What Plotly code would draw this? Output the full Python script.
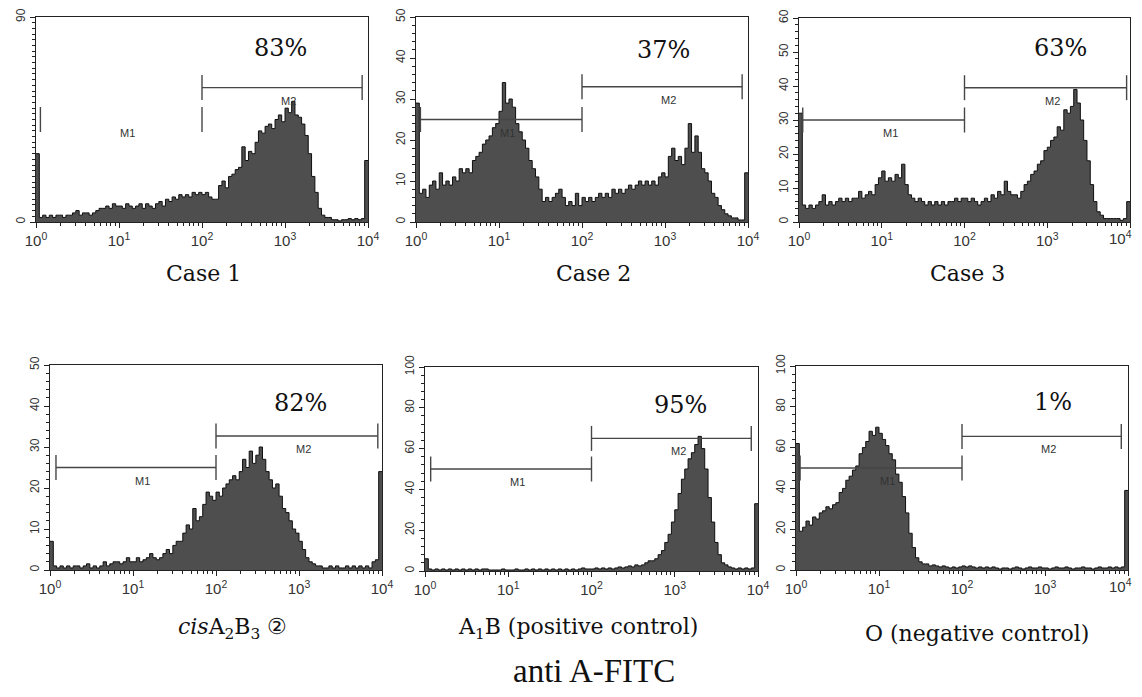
import numpy as np
import plotly.graph_objects as go

# ---------------- data ----------------
titles = ["Case 1", "Case 2", "Case 3",
          "<i>cis</i>A<sub>2</sub>B<sub>3</sub> \u2461",
          "A<sub>1</sub>B (positive control)",
          "O (negative control)"]
percents = ["83%", "37%", "63%", "82%", "95%", "1%"]
y_max = [90, 50, 60, 50, 100, 100]
y_dtick = [90, 10, 10, 10, 20, 20]
y_minor = [2.5, 2, 2, 2, 4, 4]
x_tickvals = [1, 10, 100, 1000, 10000]
x_ticktext = ["10<sup>0</sup>", "10<sup>1</sup>", "10<sup>2</sup>", "10<sup>3</sup>", "10<sup>4</sup>"]

# 100 channels per histogram, each 0.04 decade wide, from 10^0 to 10^4
counts_case1 = [30, 2, 3, 2, 3, 2, 3, 3, 2, 3,
                3, 4, 5, 3, 4, 4, 3, 4, 5, 6,
                6, 7, 6, 8, 7, 7, 6, 8, 7, 6,
                7, 8, 6, 8, 7, 6, 8, 9, 7, 10,
                9, 11, 10, 12, 11, 12, 11, 13, 12, 13,
                12, 13, 11, 10, 10, 16, 18, 15, 20, 21,
                23, 24, 33, 27, 31, 30, 35, 40, 39, 42,
                43, 41, 45, 47, 44, 50, 48, 53, 47, 46,
                43, 38, 30, 20, 13, 6, 3, 2, 2, 1,
                1, 0.5, 1, 1, 1.5, 1, 1.5, 1, 1.5, 27]
counts_case2 = [29, 7, 8, 6, 9, 10, 8, 12, 9, 10,
                9, 11, 10, 13, 12, 13, 12, 15, 16, 17,
                19, 20, 21, 23, 24, 27, 34, 29, 30, 28,
                24, 22, 20, 18, 15, 13, 11, 8, 5, 6,
                5, 6, 7, 8, 6, 4, 5, 4, 7, 4,
                6, 5, 6, 5, 6, 7, 6, 7, 6, 8,
                7, 8, 7, 8, 9, 8, 9, 10, 9, 10,
                9, 10, 9, 11, 12, 11, 16, 18, 15, 16,
                14, 18, 24, 17, 21, 17, 13, 12, 10, 7,
                6, 4, 3, 2, 1.5, 1, 1, 0.5, 0.5, 12]
counts_case3 = [32, 5, 4, 5, 4, 5, 6, 8, 5, 6,
                5, 6, 7, 6, 7, 6, 7, 7, 9, 7,
                8, 9, 8, 11, 13, 15, 12, 13, 12, 14,
                13, 17, 11, 8, 7, 6, 7, 6, 5, 6,
                5, 6, 5, 6, 5, 6, 6, 7, 6, 7,
                7, 6, 7, 6, 5, 6, 7, 6, 8, 7,
                9, 8, 12, 9, 8, 8, 7, 9, 11, 12,
                14, 15, 17, 18, 21, 22, 24, 25, 28, 27,
                33, 32, 34, 39, 35, 30, 24, 18, 11, 6,
                3, 2, 1, 1, 1, 1, 1, 0.5, 1, 6]
counts_cis = [7, 1, 0.5, 1, 0.5, 1, 0.5, 1, 1, 0.5,
              1, 1.5, 0.5, 1, 0.5, 1, 2, 1, 1.5, 2,
              2, 1.5, 2, 3, 2, 2, 3, 2, 2.5, 3,
              4, 3, 2.5, 3, 4, 5, 4, 6, 7, 7,
              9, 11, 10, 15, 12, 13, 16, 19, 18, 17,
              19, 18, 20, 21, 22, 23, 22, 24, 27, 25,
              29, 26, 28, 30, 27, 24, 22, 20, 21, 18,
              15, 14, 12, 10, 9, 7, 5, 3, 2, 1.5,
              1, 1, 0.5, 0.5, 1, 0.5, 1, 0.5, 0.5, 1,
              0.5, 1, 0.5, 1, 0.5, 1, 0.5, 2, 2.5, 24]
counts_pos = [6, 1, 0.5, 1, 0.5, 1, 0.5, 1, 0.5, 1,
              0.5, 1, 0.5, 1, 0.5, 1, 0.5, 1, 1, 0.5,
              0.5, 0.5, 0.5, 1, 0.5, 0.5, 0.5, 1, 0.5, 0.5,
              1, 0.5, 1, 0.5, 1, 0.5, 1, 0.5, 1, 0.5,
              1, 0.5, 1, 0.5, 1, 0.5, 1, 1.5, 1, 1,
              1, 1.5, 1, 1.5, 1, 1.5, 1, 1.5, 2, 1.5,
              2, 2.5, 2, 3, 2.5, 3, 4, 5, 5, 6,
              8, 10, 14, 18, 24, 30, 38, 45, 50, 55,
              58, 62, 66, 60, 50, 36, 24, 14, 8, 4,
              3, 2, 1.5, 1, 1.5, 1, 1.5, 1, 1.5, 33]
counts_neg = [62, 19, 21, 24, 22, 26, 25, 28, 29, 31,
              30, 32, 33, 38, 40, 44, 46, 49, 51, 57,
              60, 63, 68, 66, 70, 67, 64, 61, 57, 54,
              47, 43, 36, 28, 18, 11, 6, 4, 3, 3,
              2, 2.5, 2, 1.5, 2, 1.5, 1, 1.5, 1, 1.5,
              2, 1.5, 2, 1.5, 1, 1.5, 1, 1.5, 1, 1.5,
              1, 0.5, 1, 1, 0.5, 1, 1.5, 1, 0.5, 1,
              1.5, 1, 1, 1.5, 1, 1, 0.5, 1, 1.5, 1,
              1, 1.5, 1, 0.5, 1, 1, 1.5, 1, 1, 0.5,
              1, 1.5, 1, 1, 1.5, 1, 1.5, 1, 1.5, 39]
all_counts = [counts_case1, counts_case2, counts_case3, counts_cis, counts_pos, counts_neg]

# gate markers M1 / M2 (fluorescence limits, count level at which the bar sits)
m1_start = [1.13, 1.13, 1.11, 1.18, 1.17, 1.12]
m1_end = [100, 100, 100, 100, 100, 100]
m2_start = [100, 100, 100, 100, 100, 100]
m2_end = [8500, 8500, 9100, 8900, 8300, 8300]
m1_level = [45, 25, 30, 25, 50, 50]
m2_level = [59, 33, 39.5, 32.7, 65, 65.5]
m1_bar_drawn = [False, True, True, True, True, True]

# ---------------- layout (pixels of the screenshot) ----------------
PAGE_MARGIN = 8              # default body margin of the html page
W, H = 1142 - 2 * PAGE_MARGIN, 697 - 2 * PAGE_MARGIN


def fx(px):
    return (px - PAGE_MARGIN) / W


def fy(py):
    return 1 - (py - PAGE_MARGIN) / H


# left, right, top, bottom of each plot box
boxes = [(36, 368, 17, 222), (416, 748, 17, 222), (799, 1130, 18, 222),
         (50, 382, 365, 570), (425, 758, 367, 571), (796, 1128, 366, 570)]
pct_pos = [(280, 48), (663, 50), (1060, 48), (300, 403), (680, 405), (1053, 402)]
cap_pos = [(203, 273), (593, 274), (967, 273), (232, 628), (578, 628), (977, 633)]
# panels whose last x label sits at the page edge and is pulled inside it
edge_label = [False, False, True, False, False, True]

FILL = "rgb(78,78,78)"
EDGE = "rgb(15,15,15)"
MARK = "rgb(70,70,70)"
SANS = "Liberation Sans, Arial, sans-serif"
SERIF = "DejaVu Serif, serif"

fig = go.Figure()
edges = np.linspace(0, 4, 101)
x_edges = 10 ** edges
minor_x = [m * 10 ** d for d in range(4) for m in range(2, 10)]

annotations = []
for i in range(6):
    xa = "x" if i == 0 else f"x{i+1}"
    ya = "y" if i == 0 else f"y{i+1}"
    counts = all_counts[i]
    yy = list(counts) + [counts[-1]]
    fig.add_trace(go.Scatter(x=x_edges, y=yy, mode="lines", line=dict(shape="hv", color=EDGE, width=1),
                             fill="tozeroy", fillcolor=FILL, xaxis=xa, yaxis=ya, showlegend=False,
                             hoverinfo="skip"))
    l, r, t, b = boxes[i]
    h_data = 12.5 * y_max[i] / (b - t)
    # markers
    mx, my = [], []
    a, c, lv = m1_start[i], m1_end[i], m1_level[i]
    mx += [a, a, None, c, c, None]
    my += [lv - h_data, lv + h_data, None, lv - h_data, lv + h_data, None]
    if m1_bar_drawn[i]:
        mx += [a, c, None]
        my += [lv, lv, None]
    a, c, lv = m2_start[i], m2_end[i], m2_level[i]
    mx += [a, a, None, c, c, None, a, c]
    my += [lv - h_data, lv + h_data, None, lv - h_data, lv + h_data, None, lv, lv]
    fig.add_trace(go.Scatter(x=mx, y=my, mode="lines", line=dict(color=MARK, width=1.4),
                             xaxis=xa, yaxis=ya, showlegend=False, hoverinfo="skip"))
    for name, s, e, lv in (("M1", m1_start[i], m1_end[i], m1_level[i]),
                           ("M2", m2_start[i], m2_end[i], m2_level[i])):
        cx = (np.log10(s) + np.log10(e)) / 2 + 0.08
        annotations.append(dict(x=cx, y=lv, xref=xa, yref=ya, text=name, showarrow=False,
                                yshift=-13, font=dict(family=SANS, size=11, color="#333")))
    # percent
    px, py = pct_pos[i]
    annotations.append(dict(x=fx(px), y=fy(py), xref="paper", yref="paper", text=percents[i],
                            showarrow=False, xanchor="center", yanchor="middle",
                            font=dict(family=SERIF, size=24, color="#111")))
    cx, cy = cap_pos[i]
    annotations.append(dict(x=fx(cx), y=fy(cy), xref="paper", yref="paper", text=titles[i],
                            showarrow=False, xanchor="center", yanchor="middle",
                            font=dict(family=SERIF, size=22, color="#111")))

    ticktext = list(x_ticktext)
    if edge_label[i]:
        annotations.append(dict(x=1.0, y=fy(b), xref="paper", yref="paper", text=ticktext[-1],
                                showarrow=False, xanchor="right", yanchor="top", yshift=-4,
                                font=dict(family=SANS, size=15, color="#333")))
        ticktext[-1] = ""

    xkey = "xaxis" if i == 0 else f"xaxis{i+1}"
    ykey = "yaxis" if i == 0 else f"yaxis{i+1}"
    fig.update_layout(**{
        xkey: dict(type="log", range=[0, 4], domain=[fx(l), fx(r)], anchor=ya, automargin=False,
                   showgrid=False, zeroline=False, showline=True, mirror=True,
                   linecolor="#222", linewidth=1, ticks="outside", ticklen=5, tickcolor="#222",
                   tickvals=x_tickvals, ticktext=ticktext, ticklabeloverflow="allow",
                   tickfont=dict(family=SANS, size=15, color="#333"),
                   minor=dict(tickvals=minor_x, ticks="outside", ticklen=3, tickcolor="#222")),
        ykey: dict(range=[0, y_max[i]], domain=[fy(b), fy(t)], anchor=xa, automargin=False,
                   showgrid=False, zeroline=False, showline=True, mirror=True,
                   linecolor="#222", linewidth=1, ticks="outside", ticklen=5, tickcolor="#222",
                   tickvals=list(range(0, y_max[i] + 1, y_dtick[i])), tickangle=-90,
                   ticklabeloverflow="allow",
                   tickfont=dict(family=SANS, size=12, color="#333"),
                   minor=dict(dtick=y_minor[i], ticks="outside", ticklen=3, tickcolor="#222")),
    })

annotations.append(dict(x=fx(594), y=fy(671), xref="paper", yref="paper", text="anti A-FITC",
                        showarrow=False, xanchor="center", yanchor="middle",
                        font=dict(family="Liberation Serif, serif", size=33, color="#111")))

fig.update_layout(width=W, height=H, margin=dict(l=0, r=0, t=0, b=0, autoexpand=False),
                  paper_bgcolor="white", plot_bgcolor="white", annotations=annotations)
fig.write_html("out.html")
